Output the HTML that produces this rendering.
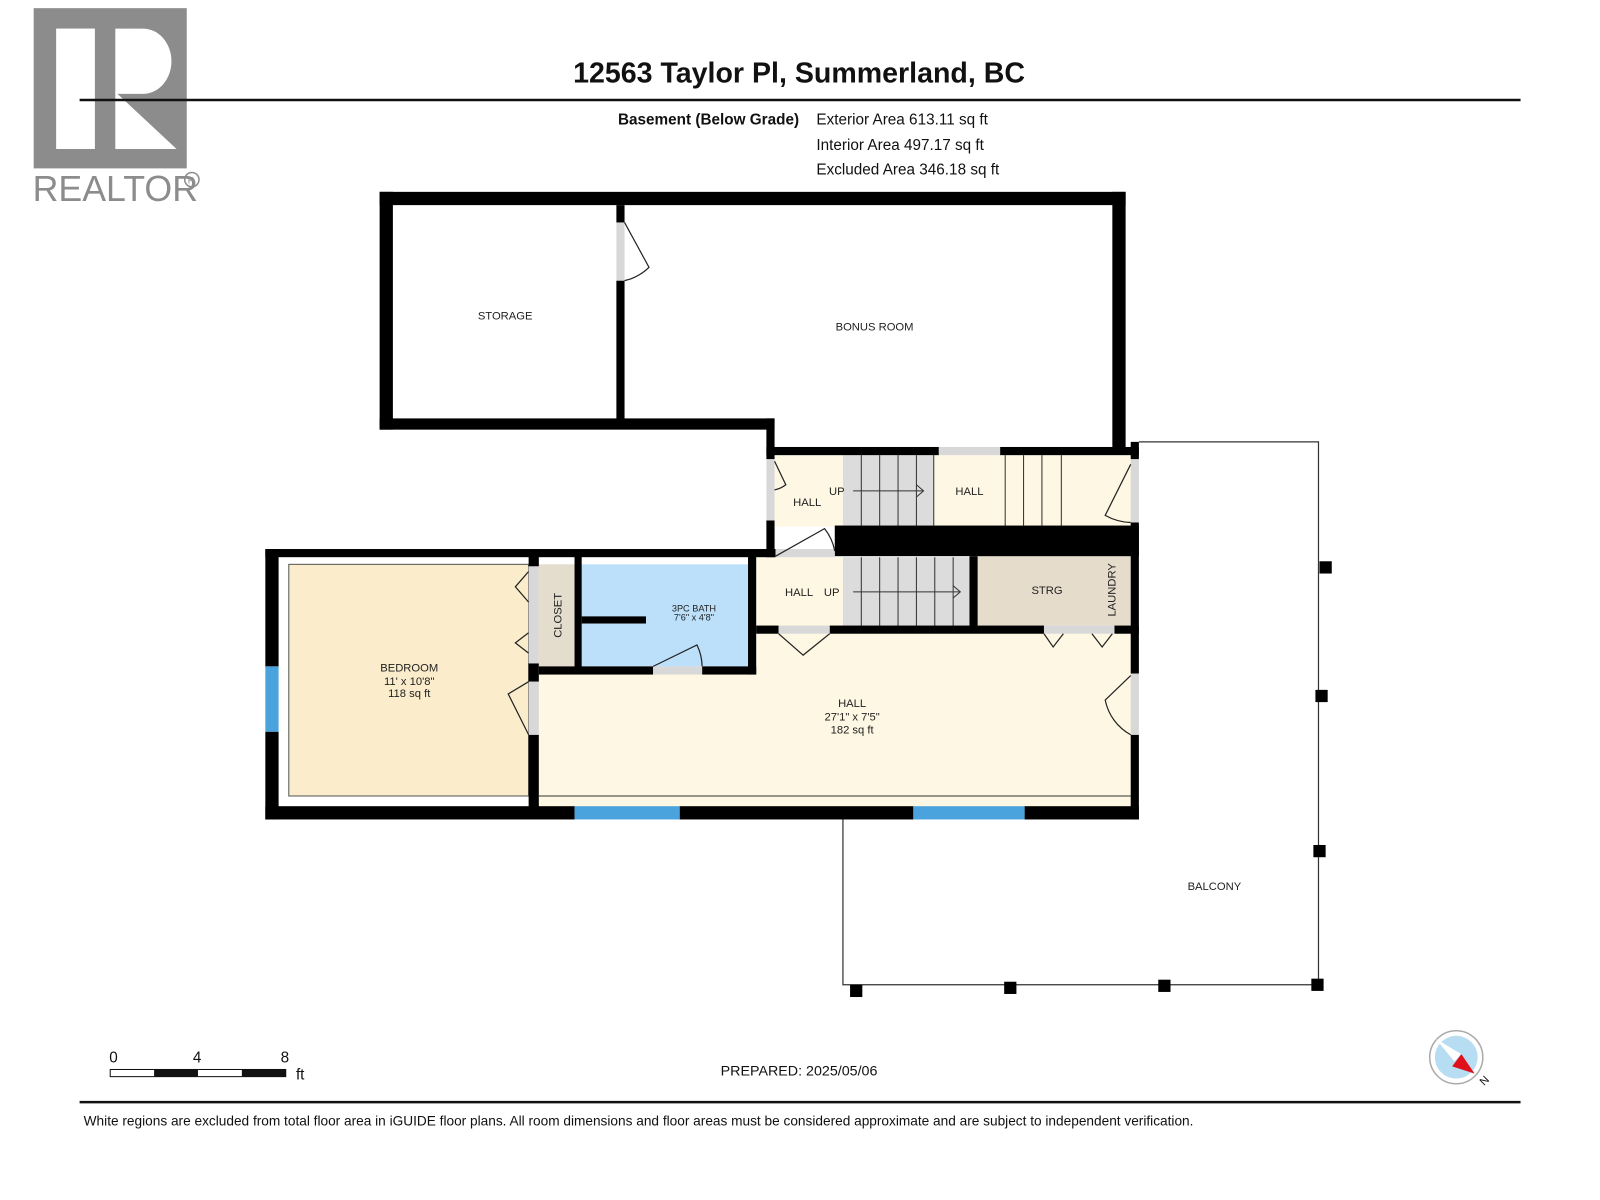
<!DOCTYPE html>
<html><head><meta charset="utf-8"><style>
body{margin:0;background:#fff;}
svg{display:block;font-family:"Liberation Sans",sans-serif;}
</style></head><body>
<svg width="1600" height="1200" viewBox="0 0 1600 1200" xmlns="http://www.w3.org/2000/svg">
<rect width="1600" height="1200" fill="#fff"/>
<g transform="scale(1.0205)">
<!-- logo -->
<rect x="33" y="8" width="150" height="157" fill="#8c8c8c"/>
<rect x="55" y="28" width="38" height="118" fill="#fff"/>
<path d="M113 28 H140 A28 32 0 0 1 140 92 H113 Z" fill="#fff"/>
<path d="M113 90 L113 146 L173 146 Z" fill="#fff"/>
<text x="32" y="197" font-size="35" fill="#8c8c8c">REALTOR</text>
<circle cx="188" cy="176" r="7" fill="none" stroke="#8c8c8c" stroke-width="1.5"/>
<text x="184" y="180" font-size="9" fill="#8c8c8c">R</text>
<!-- title -->
<text x="783" y="81" font-size="28" font-weight="bold" text-anchor="middle" fill="#111">12563 Taylor Pl, Summerland, BC</text>
<line x1="78" y1="98" x2="1490" y2="98" stroke="#111" stroke-width="2.5"/>
<text x="783" y="122" font-size="15" font-weight="bold" text-anchor="end" fill="#111">Basement (Below Grade)</text>
<text x="800" y="122" font-size="15" fill="#111">Exterior Area 613.11 sq ft</text>
<text x="800" y="147" font-size="15" fill="#111">Interior Area 497.17 sq ft</text>
<text x="800" y="171" font-size="15" fill="#111">Excluded Area 346.18 sq ft</text>

<!-- balcony -->
<path d="M1116 433 H1292 V965 H826 V803" fill="none" stroke="#333" stroke-width="1.2"/>
<g fill="#000">
<rect x="1293" y="550" width="12" height="12"/><rect x="1289" y="676" width="12" height="12"/>
<rect x="1287" y="828" width="12" height="12"/><rect x="1285" y="959" width="12" height="12"/>
<rect x="1135" y="960" width="12" height="12"/><rect x="984" y="962" width="12" height="12"/>
<rect x="833" y="965" width="12" height="12"/></g>

<!-- floors -->
<rect x="528" y="621" width="582" height="170" fill="#fdf7e3"/>
<rect x="283" y="553" width="235" height="227" fill="#fbeccb" stroke="#555" stroke-width="1"/>
<rect x="528" y="553" width="36" height="100" fill="#e4dccc"/>
<rect x="570" y="553" width="163" height="100" fill="#bde0fa"/>
<rect x="741" y="546" width="85" height="69" fill="#fdf7e3"/>
<rect x="826" y="546" width="124" height="69" fill="#dcdcdc"/>
<rect x="958" y="543" width="150" height="70" fill="#e6dccb"/>
<rect x="759" y="446" width="67" height="70" fill="#fdf7e3"/>
<rect x="826" y="446" width="89" height="70" fill="#dcdcdc"/>
<rect x="915" y="446" width="195" height="70" fill="#fdf7e3"/>
<g stroke="#333" stroke-width="1">
<path d="M844 446V516M862 446V516M880 446V516M898 446V516M915 446V516"/>
<path d="M985 446V516M1003 446V516M1021 446V516M1040 446V516"/>
<path d="M844 546V615M862 546V615M880 546V615M898 546V615M916 546V615M934 546V615"/>
<line x1="836" y1="481" x2="905" y2="481"/><path d="M898 475 L905 481 L898 487" fill="none"/>
<line x1="836" y1="580" x2="941" y2="580"/><path d="M934 574 L941 580 L934 586" fill="none"/>
<line x1="528" y1="780" x2="1108" y2="780"/>
</g>
<!-- walls -->
<g fill="#000">
<rect x="372" y="188" width="731" height="13"/>
<rect x="372" y="188" width="13" height="233"/>
<rect x="372" y="410" width="387" height="11"/>
<rect x="604" y="201" width="8" height="17"/><rect x="604" y="275" width="8" height="140"/>
<rect x="1090" y="188" width="13" height="252"/>
<rect x="751" y="410" width="8" height="40"/><rect x="751" y="510" width="8" height="36"/>
<rect x="751" y="438" width="169" height="8"/><rect x="980" y="438" width="136" height="8"/>
<rect x="1108" y="433" width="8" height="17"/><rect x="1108" y="512" width="8" height="148"/><rect x="1108" y="720" width="8" height="83"/>
<rect x="818" y="515" width="298" height="30"/>
<rect x="260" y="538" width="500" height="8"/>
<rect x="260" y="538" width="13" height="115"/><rect x="260" y="717" width="13" height="86"/>
<rect x="260" y="790" width="303" height="13"/><rect x="666" y="790" width="229" height="13"/><rect x="1004" y="790" width="112" height="13"/>
<rect x="518" y="545" width="10" height="10"/><rect x="518" y="650" width="10" height="18"/><rect x="518" y="720" width="10" height="80"/>
<rect x="563" y="545" width="7" height="115"/>
<rect x="528" y="653" width="112" height="8"/><rect x="688" y="653" width="53" height="8"/>
<rect x="733" y="545" width="8" height="116"/>
<rect x="570" y="604" width="63" height="7"/>
<rect x="741" y="613" width="22" height="8"/><rect x="813" y="613" width="210" height="8"/><rect x="1092" y="613" width="24" height="8"/>
<rect x="950" y="545" width="8" height="70"/>
</g>
<!-- windows -->
<g fill="#4aa3dc"><rect x="260" y="653" width="13" height="64"/><rect x="563" y="790" width="103" height="13"/><rect x="895" y="790" width="109" height="13"/></g>
<!-- doors -->
<g fill="#d8d8d8"><rect x="604" y="218" width="8" height="57"/><rect x="920" y="438" width="60" height="8"/><rect x="751" y="450" width="8" height="60"/><rect x="1108" y="450" width="8" height="62"/><rect x="1108" y="660" width="8" height="60"/><rect x="763" y="613" width="50" height="8"/><rect x="1023" y="613" width="69" height="8"/><rect x="640" y="653" width="48" height="8"/><rect x="518" y="668" width="10" height="52"/><rect x="518" y="555" width="10" height="95"/><rect x="760" y="538" width="58" height="8"/></g>
<g fill="none" stroke="#222" stroke-width="1.2">
<path d="M612 218 L636 262 A50 50 0 0 1 612 275"/>
<path d="M759 452 L770 475 A25 25 0 0 1 759 480"/>
<path d="M1108 455 L1083 505 A55 55 0 0 0 1108 512"/>
<path d="M1108 662 L1083 686 A50 50 0 0 0 1108 720"/>
<path d="M760 545 L808 518 A50 50 0 0 1 818 540"/>
<path d="M763 621 L787 642 L813 621"/>
<path d="M1023 621 L1032 634 L1042 621 M1070 621 L1080 634 L1090 621"/>
<path d="M640 653 L683 632 A50 50 0 0 1 688 653"/>
<path d="M518 720 L498 680 L518 668"/>
<path d="M518 560 L505 575 L518 590 M518 620 L505 630 L518 640"/>
</g>
<!-- labels -->
<g font-size="11" fill="#222" text-anchor="middle">
<text x="495" y="313">STORAGE</text>
<text x="857" y="324">BONUS ROOM</text>
<text x="791" y="496">HALL</text><text x="820" y="485">UP</text>
<text x="950" y="485">HALL</text>
<text x="783" y="584">HALL</text><text x="815" y="584">UP</text>
<text x="1026" y="582">STRG</text>
<text x="401" y="658">BEDROOM</text><text x="401" y="671">11' x 10'8"</text><text x="401" y="683">118 sq ft</text>
<text x="835" y="693">HALL</text><text x="835" y="706">27'1" x 7'5"</text><text x="835" y="719">182 sq ft</text>
<text x="1190" y="872">BALCONY</text>
<text x="680" y="599" font-size="9">3PC BATH</text><text x="680" y="608" font-size="9">7'6" x 4'8"</text>
<text transform="translate(550 603) rotate(-90)">CLOSET</text>
<text transform="translate(1093 578) rotate(-90)">LAUNDRY</text>
</g>
<!-- scale -->
<g font-size="15" fill="#111"><text x="107" y="1041">0</text><text x="189" y="1041">4</text><text x="275" y="1041">8</text><text x="290" y="1058">ft</text></g>
<rect x="108" y="1048" width="172" height="7" fill="#fff" stroke="#111" stroke-width="1"/>
<rect x="151" y="1048" width="43" height="7" fill="#111"/><rect x="237" y="1048" width="43" height="7" fill="#111"/>
<text x="783" y="1054" font-size="14" text-anchor="middle" fill="#111">PREPARED: 2025/05/06</text>
<!-- compass -->
<circle cx="1427" cy="1036" r="26" fill="#fff" stroke="#aaa" stroke-width="1.5"/>
<circle cx="1427" cy="1036" r="21" fill="#b7ddf2"/>
<path d="M1407 1018 L1432 1033 L1425 1040 Z" fill="#fff"/>
<path d="M1432 1033 L1445 1052 L1423 1045 Z" fill="#e0101a"/>
<text x="1450" y="1062" font-size="11" fill="#111" transform="rotate(-45 1455 1058)">N</text>
<line x1="78" y1="1080" x2="1490" y2="1080" stroke="#111" stroke-width="2.5"/>
<text x="82" y="1103" font-size="13.4" fill="#111">White regions are excluded from total floor area in iGUIDE floor plans. All room dimensions and floor areas must be considered approximate and are subject to independent verification.</text>
</g>
</svg>
</body></html>
